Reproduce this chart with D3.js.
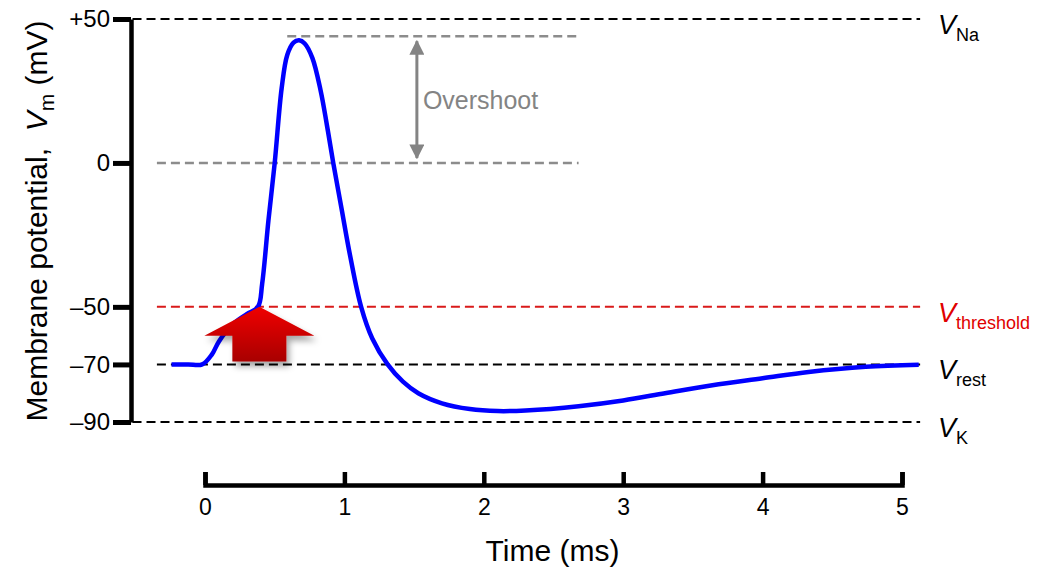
<!DOCTYPE html>
<html>
<head>
<meta charset="utf-8">
<script src="https://cdn.jsdelivr.net/npm/d3@7"></script>
<style>
  body { margin: 0; background: #fff; }
  text { font-family: Arial, "Liberation Sans", sans-serif; }
</style>
</head>
<body>
<svg id="chart"></svg>
<script>
// membrane potential trace
const timeMs = [-0.24, -0.12, -0.02, 0.05, 0.1, 0.2, 0.3, 0.38, 0.41, 0.455, 0.5, 0.55, 0.59, 0.635, 0.675, 0.715, 0.77, 0.83, 0.875, 0.92, 0.98, 1.04, 1.12, 1.2, 1.31, 1.42, 1.53, 1.7, 1.9, 2.1, 2.3, 2.68, 3.0, 3.3, 3.64, 4.0, 4.33, 4.74, 5.12];
const voltage = [-70, -70, -70, -66.5, -62, -56, -52.5, -50, -42, -20, 0, 26, 37.5, 41.8, 42.6, 41.5, 36.5, 25, 13, 0, -16, -32, -50, -61, -70, -76, -80, -83.5, -85.5, -86.2, -86, -84.5, -82.5, -80, -77.2, -74.8, -72.6, -70.8, -70.1];

const yTicks = [50, 0, -50, -70, -90];
const xTicks = [0, 1, 2, 3, 4, 5];

const refValues = [50, -50, -70, -90];
const refNames = ["Na", "threshold", "rest", "K"];
const refColors = ["#000", "#d91a1a", "#000", "#000"];
const refStart = [-0.52, -0.345, -0.345, -0.52];

const overshootTop = 44;
const thresholdTime = 0.39;

const W = 1040, H = 571;
const svg = d3.select("#chart").attr("width", W).attr("height", H);

const x = d3.scaleLinear().domain([0, 5]).range([205, 902]);
const y = d3.scaleLinear().domain([-90, 50]).range([422, 19]);
const lineEnd = 5.13;

const defs = svg.append("defs");
const grad = defs.append("linearGradient").attr("id", "redGrad")
  .attr("x1", 0).attr("y1", 0).attr("x2", 0).attr("y2", 1);
grad.append("stop").attr("offset", "0%").attr("stop-color", "#f00000");
grad.append("stop").attr("offset", "100%").attr("stop-color", "#a80000");

const shadow = defs.append("filter").attr("id", "shadow")
  .attr("x", "-20%").attr("y", "-20%").attr("width", "150%").attr("height", "160%");
shadow.append("feDropShadow").attr("dx", 3).attr("dy", 5).attr("stdDeviation", 3)
  .attr("flood-color", "#000").attr("flood-opacity", 0.35);

defs.append("marker").attr("id", "grayHead")
  .attr("viewBox", "0 0 10 10").attr("refX", 9).attr("refY", 5)
  .attr("markerWidth", 5).attr("markerHeight", 5).attr("markerUnits", "strokeWidth")
  .attr("orient", "auto-start-reverse")
  .append("path").attr("d", "M0,0L10,5L0,10Z").attr("fill", "#848484");

// reference lines
refValues.forEach(function(v, i) {
  svg.append("line")
    .attr("x1", x(refStart[i])).attr("x2", x(lineEnd))
    .attr("y1", y(v)).attr("y2", y(v))
    .attr("stroke", refColors[i]).attr("stroke-width", 2)
    .attr("stroke-dasharray", "9,5");
});

// overshoot guide lines
svg.append("line")
  .attr("x1", x(-0.345)).attr("x2", x(2.68))
  .attr("y1", y(0)).attr("y2", y(0))
  .attr("stroke", "#8c8c8c").attr("stroke-width", 2.4).attr("stroke-dasharray", "9,5");
svg.append("line")
  .attr("x1", x(0.59)).attr("x2", x(2.68))
  .attr("y1", y(overshootTop)).attr("y2", y(overshootTop))
  .attr("stroke", "#8c8c8c").attr("stroke-width", 2.4).attr("stroke-dasharray", "9,5");

svg.append("line")
  .attr("x1", x(1.52)).attr("x2", x(1.52))
  .attr("y1", y(overshootTop) + 5).attr("y2", y(0) - 5)
  .attr("stroke", "#848484").attr("stroke-width", 3)
  .attr("marker-start", "url(#grayHead)").attr("marker-end", "url(#grayHead)");

svg.append("text")
  .attr("x", x(1.52) + 6).attr("y", (y(overshootTop) + y(0)) / 2 + 9)
  .attr("fill", "#848484").style("font-size", "25px")
  .text("Overshoot");

// trace
const pts = timeMs.map((t, i) => [t, voltage[i]]);
svg.append("path")
  .datum(pts)
  .attr("fill", "none")
  .attr("stroke", "#0000ff")
  .attr("stroke-width", 4.5)
  .attr("stroke-linejoin", "round")
  .attr("d", d3.line().x(d => x(d[0])).y(d => y(d[1])).curve(d3.curveCatmullRom.alpha(0.5)));

// red block arrow (stimulus)
const tipX = x(thresholdTime), tipY = y(-50);
const headW = 55, headH = 29, shaftW = 27, shaftBottom = y(-70) - 3;
const arrowPts = [
  [tipX, tipY], [tipX + headW, tipY + headH], [tipX + shaftW, tipY + headH],
  [tipX + shaftW, shaftBottom], [tipX - shaftW, shaftBottom],
  [tipX - shaftW, tipY + headH], [tipX - headW, tipY + headH]
];
svg.append("path")
  .attr("d", d3.line()(arrowPts) + "Z")
  .attr("fill", "url(#redGrad)")
  .attr("filter", "url(#shadow)");

// y axis
const yAxis = d3.axisLeft(y)
  .tickValues(yTicks)
  .tickSize(18).tickSizeOuter(0).tickPadding(3)
  .tickFormat(d => d > 0 ? "+" + d : d < 0 ? "\u2013" + Math.abs(d) : "0");
const gy = svg.append("g").attr("transform", "translate(131,0)").call(yAxis);
gy.select(".domain").attr("stroke-width", 4.5);
gy.selectAll(".tick line").attr("stroke-width", 5);
gy.selectAll(".tick text").style("font-size", "24px").attr("fill", "#000")
  .attr("font-family", null);

// x axis
const xAxis = d3.axisBottom(x)
  .tickValues(xTicks)
  .tickFormat(d3.format("d"))
  .tickSizeInner(-13).tickSizeOuter(-13).tickPadding(14);
const gx = svg.append("g").attr("transform", "translate(0,485)").call(xAxis);
gx.select(".domain").attr("stroke-width", 4.5);
gx.selectAll(".tick line").attr("stroke-width", 4.5);
gx.selectAll(".tick text").style("font-size", "23px").attr("fill", "#000")
  .attr("font-family", null);

// axis titles
svg.append("text")
  .attr("x", x(2.5) - 1).attr("y", 561)
  .attr("text-anchor", "middle")
  .style("font-size", "30px")
  .text("Time (ms)");

const yt = svg.append("text")
  .attr("transform", "translate(47,221) rotate(-90)")
  .attr("text-anchor", "middle")
  .style("font-size", "30px");
yt.append("tspan").text("Membrane potential,\u00a0\u00a0");
yt.append("tspan").style("font-style", "italic").text("V");
yt.append("tspan").attr("dy", 7).style("font-size", "21px").text("m");
yt.append("tspan").attr("dy", -7).text("\u00a0(mV)");

// right labels
refValues.forEach(function(v, i) {
  const t = svg.append("text")
    .attr("x", 938).attr("y", y(v) + 15)
    .attr("fill", refColors[i] === "#000" ? "#000" : "#e00000");
  t.append("tspan").style("font-size", "27px").style("font-style", "italic").text("V");
  t.append("tspan").attr("dy", 7).style("font-size", "18px").text(refNames[i]);
});
</script>
</body>
</html>
